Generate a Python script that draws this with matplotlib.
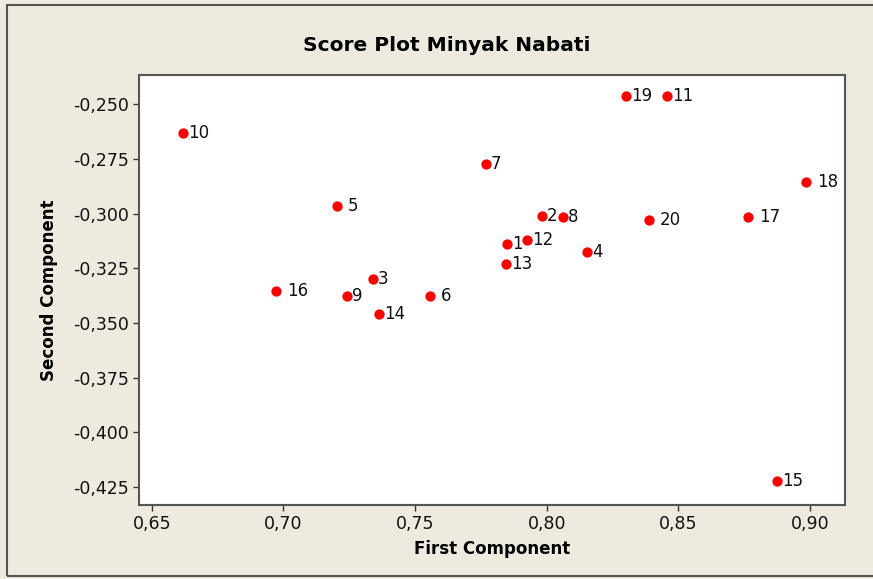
import matplotlib
matplotlib.use("Agg")
import matplotlib.pyplot as plt
from matplotlib.patches import Rectangle
from matplotlib.ticker import FuncFormatter

# score values
labels = ["1", "2", "3", "4", "5", "6", "7", "8", "9", "10",
          "11", "12", "13", "14", "15", "16", "17", "18", "19", "20"]
first_comp = [0.7849, 0.7982, 0.7340, 0.8153, 0.7203, 0.7556, 0.7769, 0.8062, 0.7241, 0.6618,
              0.8457, 0.7925, 0.7845, 0.7362, 0.8875, 0.6971, 0.8764, 0.8985, 0.8301, 0.8388]
second_comp = [-0.3140, -0.3012, -0.3300, -0.3176, -0.2966, -0.3377, -0.2774, -0.3016, -0.3377, -0.2633,
               -0.2463, -0.3122, -0.3231, -0.3460, -0.4223, -0.3355, -0.3016, -0.2857, -0.2463, -0.3030]
wide_gap = ["5", "6", "16", "17", "18", "20"]   # labels placed a bit further from the dot

x_ticks = [0.65, 0.70, 0.75, 0.80, 0.85, 0.90]
y_ticks = [-0.250, -0.275, -0.300, -0.325, -0.350, -0.375, -0.400, -0.425]

bg = "#EEEAE0"
fig = plt.figure(figsize=(8.73, 5.79), dpi=100, facecolor=bg)
# outer frame like the minitab graph window
fig.patches.append(Rectangle((0.008, 0.006), 1.2, 0.985, transform=fig.transFigure,
                             fill=False, edgecolor="#555555", linewidth=1.5))

ax = fig.add_axes([0.1592, 0.1278, 0.8087, 0.7427])
ax.set_facecolor("white")
ax.scatter(first_comp, second_comp, s=55, color="#FF0000", zorder=3, linewidths=0)

for lab, xv, yv in zip(labels, first_comp, second_comp):
    dx = 8 if lab in wide_gap else 3.5
    ax.annotate(lab, (xv, yv), xytext=(dx, 0), textcoords="offset points",
                ha="left", va="center", fontsize=12, color="#111111")

ax.set_xlim(0.6451, 0.9133)
ax.set_ylim(-0.4332, -0.2367)
ax.set_xticks(x_ticks)
ax.set_yticks(y_ticks)
ax.xaxis.set_major_formatter(FuncFormatter(lambda v, p: f"{v:.2f}".replace(".", ",")))
ax.yaxis.set_major_formatter(FuncFormatter(lambda v, p: f"{v:.3f}".replace(".", ",")))
ax.tick_params(direction="out", length=4, width=1, labelsize=12.5, colors="#333333",
               labelcolor="#111111", pad=3)

for sp in ax.spines.values():
    sp.set_color("#555555")
    sp.set_linewidth(1.5)

ax.set_xlabel("First Component", fontsize=12, fontweight="bold", labelpad=5)
ax.set_ylabel("Second Component", fontsize=12, fontweight="bold", labelpad=11)
fig.text(0.512, 0.922, "Score Plot Minyak Nabati", fontsize=14.5, fontweight="bold",
         ha="center", va="center")

fig.savefig("out.png", dpi=100, facecolor=bg)
